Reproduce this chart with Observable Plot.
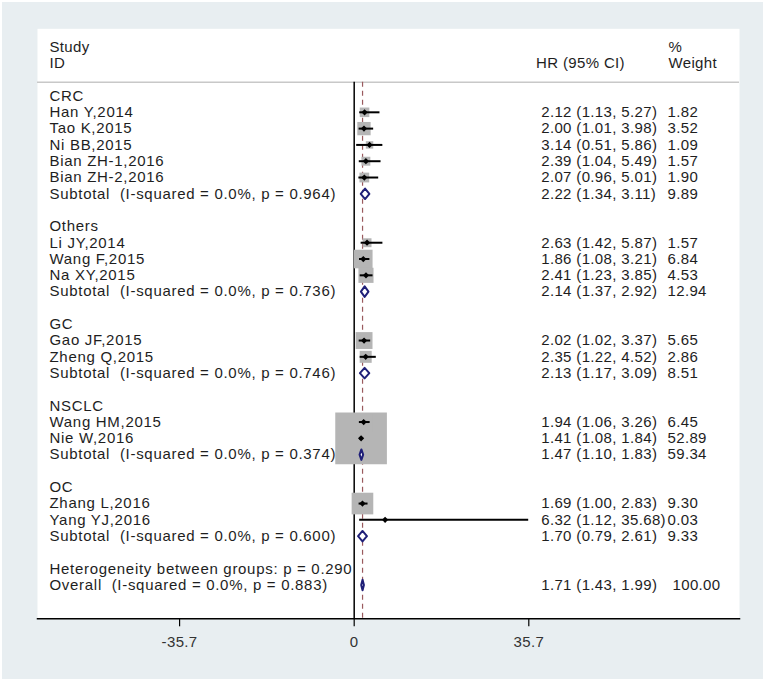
<!DOCTYPE html>
<html>
<head>
<meta charset="utf-8">
<script src="https://cdn.jsdelivr.net/npm/d3@7"></script>
<script src="https://cdn.jsdelivr.net/npm/@observablehq/plot@0.6"></script>
<style>
  html, body { margin: 0; padding: 0; background: #ffffff; }
  svg text { white-space: pre; letter-spacing: 0.35px; }
</style>
</head>
<body>
<div id="chart"></div>
<script>
// ---- data ----
const rowLabels = [
  "CRC", "Han Y,2014", "Tao K,2015", "Ni BB,2015", "Bian ZH-1,2016", "Bian ZH-2,2016",
  "Subtotal  (I-squared = 0.0%, p = 0.964)", "",
  "Others", "Li JY,2014", "Wang F,2015", "Na XY,2015",
  "Subtotal  (I-squared = 0.0%, p = 0.736)", "",
  "GC", "Gao JF,2015", "Zheng Q,2015",
  "Subtotal  (I-squared = 0.0%, p = 0.746)", "",
  "NSCLC", "Wang HM,2015", "Nie W,2016",
  "Subtotal  (I-squared = 0.0%, p = 0.374)", "",
  "OC", "Zhang L,2016", "Yang YJ,2016",
  "Subtotal  (I-squared = 0.0%, p = 0.600)", "",
  "Heterogeneity between groups: p = 0.290",
  "Overall  (I-squared = 0.0%, p = 0.883)"
];
const rowTypes = [
  "group", "study", "study", "study", "study", "study", "subtotal", "blank",
  "group", "study", "study", "study", "subtotal", "blank",
  "group", "study", "study", "subtotal", "blank",
  "group", "study", "study", "subtotal", "blank",
  "group", "study", "study", "subtotal", "blank",
  "het", "overall"
];
const hr = [
  null, 2.12, 2.00, 3.14, 2.39, 2.07, 2.22, null,
  null, 2.63, 1.86, 2.41, 2.14, null,
  null, 2.02, 2.35, 2.13, null,
  null, 1.94, 1.41, 1.47, null,
  null, 1.69, 6.32, 1.70, null,
  null, 1.71
];
const ciLow = [
  null, 1.13, 1.01, 0.51, 1.04, 0.96, 1.34, null,
  null, 1.42, 1.08, 1.23, 1.37, null,
  null, 1.02, 1.22, 1.17, null,
  null, 1.06, 1.08, 1.10, null,
  null, 1.00, 1.12, 0.79, null,
  null, 1.43
];
const ciHigh = [
  null, 5.27, 3.98, 5.86, 5.49, 5.01, 3.11, null,
  null, 5.87, 3.21, 3.85, 2.92, null,
  null, 3.37, 4.52, 3.09, null,
  null, 3.26, 1.84, 1.83, null,
  null, 2.83, 35.68, 2.61, null,
  null, 1.99
];
const weights = [
  null, 1.82, 3.52, 1.09, 1.57, 1.90, 9.89, null,
  null, 1.57, 6.84, 4.53, 12.94, null,
  null, 5.65, 2.86, 8.51, null,
  null, 6.45, 52.89, 59.34, null,
  null, 9.30, 0.03, 9.33, null,
  null, 100.00
];
const headerLeft = ["Study", "ID"];
const headerHR = "HR (95% CI)";
const headerWeight = ["%", "Weight"];
const xTicks = [-35.7, 0, 35.7];

// ---- build tables ----
const rows = rowLabels.map((label, i) => ({
  row: i, label, type: rowTypes[i],
  est: hr[i], lo: ciLow[i], hi: ciHigh[i], w: weights[i]
}));
const studies = rows.filter(d => d.type === "study");
const pooled = rows.filter(d => d.type === "subtotal" || d.type === "overall");
const withValues = rows.filter(d => d.est != null);
const overall = rows.find(d => d.type === "overall");

const halfH = 0.32; // diamond half height in rows
const diamondVerts = pooled.flatMap(d => [
  {g: d.row, x: d.lo, y: d.row},
  {g: d.row, x: d.est, y: d.row - halfH},
  {g: d.row, x: d.hi, y: d.row},
  {g: d.row, x: d.est, y: d.row + halfH}
]);

const fmt = v => v.toFixed(2);
const headerTop = -3, headerLineRow = -0.85;
const axisRow = 32.07;

const textColor = "#1e1e1e";
const FONT = 15;

const chart = Plot.plot({
  width: 761,
  height: 677,
  marginLeft: 35,
  marginRight: 24,
  marginTop: 26.3,
  marginBottom: 60.7,
  style: {
    fontFamily: "'Liberation Sans', Arial, sans-serif",
    fontSize: "15px",
    background: "#e8eef1",
    display: "block",
    margin: "2px 0 0 2px",
    color: textColor
  },
  x: {domain: [-64.75, 78.78]},
  y: {domain: [-4.123, axisRow], reverse: true, axis: null},
  r: {type: "sqrt", domain: [0, 100], range: [0, 40.06]},
  marks: [
    Plot.frame({fill: "white", stroke: null}),
    // header separator
    Plot.ruleY([headerLineRow], {stroke: "#c8c8c8", strokeWidth: 1.5}),
    // overall dashed reference line
    Plot.ruleX([overall.est], {y1: headerLineRow, y2: axisRow, stroke: "#9a5a5e", strokeWidth: 1.2, strokeDasharray: "5,4"}),
    // null line
    Plot.ruleX([0], {y1: headerLineRow, y2: axisRow, stroke: "#000", strokeWidth: 1.5}),
    // weight boxes
    Plot.dot(studies, {x: "est", y: "row", r: "w", symbol: "square", fill: "#b5b5b5", stroke: null}),
    // confidence intervals
    Plot.ruleY(studies, {y: "row", x1: "lo", x2: "hi", stroke: "#000", strokeWidth: 2}),
    // point estimates
    Plot.dot(studies, {x: "est", y: "row", r: 2.8, symbol: "diamond2", fill: "#000", stroke: null}),
    // pooled diamonds
    Plot.line(diamondVerts, {x: "x", y: "y", z: "g", curve: "linear-closed", stroke: "#1f1f78", fill: "white", strokeWidth: 2}),
    // header texts
    Plot.text(headerLeft, {text: d => d, y: (d, i) => headerTop + i, frameAnchor: "left", dx: 12, textAnchor: "start", fontSize: FONT, fill: textColor}),
    Plot.text([headerHR], {text: d => d, y: [headerTop + 1], frameAnchor: "left", dx: 498.6, textAnchor: "start", fontSize: FONT, fill: textColor}),
    Plot.text(headerWeight, {text: d => d, y: (d, i) => headerTop + i, frameAnchor: "left", dx: 631, textAnchor: "start", fontSize: FONT, fill: textColor}),
    // row labels
    Plot.text(rows.filter(d => d.label), {text: "label", y: "row", frameAnchor: "left", dx: 12, textAnchor: "start", fontSize: FONT, fill: textColor}),
    // HR (95% CI)
    Plot.text(withValues, {text: d => `${fmt(d.est)} (${fmt(d.lo)}, ${fmt(d.hi)})`, y: "row", frameAnchor: "left", dx: 503.7, textAnchor: "start", fontSize: FONT, fill: textColor}),
    // weights
    Plot.text(withValues.filter(d => d.type !== "overall"), {text: d => fmt(d.w), y: "row", frameAnchor: "left", dx: 630, textAnchor: "start", fontSize: FONT, fill: textColor}),
    Plot.text([overall], {text: d => fmt(d.w), y: "row", frameAnchor: "left", dx: 635, textAnchor: "start", fontSize: FONT, fill: textColor}),
    // x axis
    Plot.frame({anchor: "bottom", stroke: "#000", strokeWidth: 1.5}),
    Plot.axisX(xTicks, {tickFormat: d => String(d), tickSize: 8, tickPadding: 10, fontSize: FONT, stroke: "#000", strokeWidth: 1.2, color: "#333"})
  ]
});
// Stata spaces the left-column labels a little wider
const labelSet = new Set(rowLabels.filter(Boolean));
d3.select(chart).selectAll("text")
  .filter(function () { return labelSet.has(this.textContent); })
  .style("letter-spacing", "0.7px");
document.getElementById("chart").appendChild(chart);
</script>
</body>
</html>
